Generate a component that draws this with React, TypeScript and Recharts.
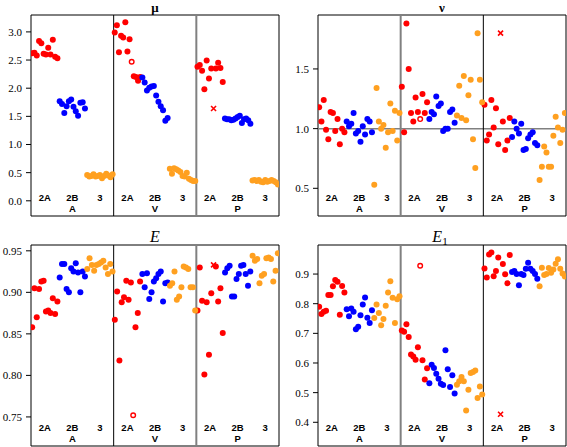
import { ReferenceArea, ReferenceDot, ReferenceLine, Scatter, ScatterChart, XAxis, YAxis } from 'recharts';

const groupNames = ['A', 'V', 'P'];
const subNames = ['2A', '2B', '3'];
const subColors = ['#ff0000', '#0000ff', '#ffa020'];

// each array: [A, V, P] values in plotting order
const mu2A = [
  [2.62, 2.63, 2.58, 2.84, 2.8, 2.61, 2.6, 2.72, 2.6, 2.86, 2.56, 2.53],
  [2.99, 3.12, 2.64, 2.93, 2.9, 3.17, 2.65, 2.87, 2.47, 2.21, 2.2, 2.13, 2.2],
  [2.38, 2.41, 2.31, 1.98, 2.49, 2.17, 2.35, 1.64, 2.35, 2.45, 2.36, 2.11],
];
const mu2B = [
  [1.77, 1.72, 1.56, 1.68, 1.77, 1.8, 1.67, 1.59, 1.51, 1.74, 1.75, 1.64],
  [2.19, 2.1, 1.96, 2.01, 2.03, 2.04, 1.87, 1.76, 1.68, 1.61, 1.42, 1.47],
  [1.46, 1.45, 1.45, 1.43, 1.44, 1.46, 1.49, 1.51, 1.38, 1.45, 1.46, 1.43, 1.37],
];
const mu3 = [
  [0.46, 0.43, 0.44, 0.47, 0.43, 0.44, 0.46, 0.4, 0.44, 0.48, 0.45, 0.42, 0.47],
  [0.57, 0.48, 0.58, 0.56, 0.54, 0.51, 0.44, 0.43, 0.5, 0.39, 0.37, 0.35, 0.35],
  [0.36, 0.37, 0.35, 0.37, 0.34, 0.33, 0.37, 0.34, 0.35, 0.37, 0.35, 0.33, 0.29],
];

const nu2A = [
  [1.18, 1.06, 1.24, 0.99, 0.91, 1.14, 1.13, 0.98, 1.08, 0.87, 1.0, 0.97],
  [1.35, 0.97, 1.88, 1.5, 1.13, 1.06, 1.26, 1.14, 1.08, 1.29, 1.13, 1.22],
  [1.2, 0.9, 0.95, 1.24, 1.01, 1.17, 0.87, 1.8, 1.06, 0.82, 0.9, 1.09],
];
const nu2B = [
  [1.06, 1.02, 1.04, 1.13, 0.96, 0.98, 0.89, 1.02, 0.95, 1.08, 1.06, 0.97],
  [1.08, 1.14, 1.12, 1.27, 1.19, 1.21, 0.98, 1.0, 1.0, 1.14, 1.16, 1.05],
  [0.93, 1.06, 1.0, 0.96, 1.04, 0.82, 0.83, 0.92, 0.95, 0.97, 0.88, 0.86],
];
const nu3 = [
  [0.53, 1.34, 1.06, 1.0, 1.03, 0.84, 0.97, 1.21, 0.98, 1.15, 0.9, 1.13],
  [1.11, 1.36, 1.09, 1.44, 1.07, 1.28, 1.41, 0.91, 0.67, 1.8, 1.41, 1.22],
  [0.57, 0.68, 0.85, 0.8, 0.68, 0.68, 0.94, 1.1, 1.01, 0.88, 0.99, 1.13],
];

const e2A = [
  [0.858, 0.905, 0.87, 0.904, 0.913, 0.914, 0.877, 0.878, 0.875, 0.893, 0.874, 0.889],
  [0.867, 0.901, 0.818, 0.888, 0.894, 0.914, 0.891, 0.912, 0.752, 0.858, 0.875, 0.913],
  [0.878, 0.93, 0.89, 0.801, 0.888, 0.825, 0.899, 0.933, 0.931, 0.889, 0.905, 0.851],
];
const e2B = [
  [0.918, 0.934, 0.934, 0.904, 0.9, 0.929, 0.925, 0.935, 0.924, 0.9, 0.925, 0.919],
  [0.922, 0.906, 0.923, 0.892, 0.9, 0.913, 0.917, 0.922, 0.925, 0.889, 0.911, 0.912],
  [0.924, 0.929, 0.932, 0.895, 0.895, 0.916, 0.922, 0.932, 0.933, 0.922, 0.908, 0.925],
];
const e3 = [
  [0.928, 0.941, 0.933, 0.926, 0.933, 0.934, 0.936, 0.938, 0.93, 0.922, 0.934, 0.925],
  [0.908, 0.911, 0.925, 0.891, 0.895, 0.906, 0.931, 0.93, 0.928, 0.906, 0.906, 0.878],
  [0.944, 0.938, 0.94, 0.911, 0.92, 0.922, 0.941, 0.942, 0.94, 0.913, 0.926, 0.947],
];

const e1_2A = [
  [0.79, 0.765, 0.773, 0.776, 0.829, 0.829, 0.859, 0.88, 0.874, 0.763, 0.86, 0.838],
  [0.71, 0.705, 0.731, 0.688, 0.629, 0.622, 0.611, 0.653, 0.928, 0.609, 0.544, 0.582],
  [0.919, 0.888, 0.966, 0.973, 0.893, 0.91, 0.956, 0.427, 0.934, 0.899, 0.869, 0.964],
];
const e1_2B = [
  [0.781, 0.758, 0.784, 0.773, 0.714, 0.722, 0.761, 0.797, 0.821, 0.753, 0.735, 0.778],
  [0.532, 0.594, 0.583, 0.564, 0.547, 0.53, 0.526, 0.643, 0.579, 0.519, 0.559, 0.497],
  [0.907, 0.91, 0.9, 0.862, 0.9, 0.897, 0.918, 0.938, 0.918, 0.91, 0.9, 0.884],
];
const e1_3 = [
  [0.752, 0.797, 0.769, 0.727, 0.748, 0.793, 0.838, 0.876, 0.82, 0.735, 0.815, 0.825],
  [0.527, 0.538, 0.553, 0.538, 0.44, 0.51, 0.566, 0.57, 0.575, 0.482, 0.521, 0.494],
  [0.859, 0.921, 0.897, 0.9, 0.92, 0.904, 0.915, 0.935, 0.95, 0.918, 0.902, 0.892],
];

// special 2A markers (group index, point index): open circle and cross
const openMarks = [{ g: 1, i: 8 }];
const crossMarks = [{ g: 2, i: 7 }];

const muTicks = [0, 0.5, 1, 1.5, 2, 2.5, 3];
const nuTicks = [0.5, 1, 1.5];
const eTicks = [0.75, 0.8, 0.85, 0.9, 0.95];
const e1Ticks = [0.4, 0.5, 0.6, 0.7, 0.8, 0.9];
const catCenters = [0.5, 1.5, 2.5, 3.5, 4.5, 5.5, 6.5, 7.5, 8.5];

const GRAY = '#808080';
const AXIS_W = 31;
const PLOT_W = 248;
const PLOT_H = 201;
const TOP = 15;

type Pt = { x: number; y: number };

function buildPoints(series: number[][][]) {
  const normal: Pt[][] = [[], [], []];
  const open: Pt[] = [];
  const cross: Pt[] = [];
  series.forEach((byGroup, s) =>
    byGroup.forEach((vals, g) =>
      vals.forEach((v, i) => {
        const pt = { x: g * 3 + s + (i + 0.5) / vals.length, y: v };
        if (s === 0 && openMarks.some((m) => m.g === g && m.i === i)) open.push(pt);
        else if (s === 0 && crossMarks.some((m) => m.g === g && m.i === i)) cross.push(pt);
        else normal[s].push(pt);
      })
    )
  );
  return { normal, open, cross };
}

const dot = (color: string) => (p: any) => <circle cx={p.cx} cy={p.cy} r={3} fill={color} />;
const ring = (p: any) => <circle cx={p.cx} cy={p.cy} r={2.3} fill="#fff" stroke="#ff0000" strokeWidth={1.4} />;
const xMark = (p: any) => (
  <path
    d={`M${p.cx - 2.5},${p.cy - 2.5}L${p.cx + 2.5},${p.cy + 2.5}M${p.cx - 2.5},${p.cy + 2.5}L${p.cx + 2.5},${p.cy - 2.5}`}
    stroke="#ff0000"
    strokeWidth={1.6}
  />
);

const catStyle = { fontFamily: 'Liberation Sans, Arial, sans-serif', fontSize: 9.5, fontWeight: 700 };

const catLabel = (c: number) => (props: any) => {
  const s = Math.floor(c) % 3;
  const g = Math.floor(c / 3);
  const { x, y } = props.viewBox;
  return (
    <g>
      <text x={x} y={y - 15} textAnchor="middle" fill="#000" style={catStyle}>
        {subNames[s]}
      </text>
      {s === 1 && (
        <text x={x} y={y - 4} textAnchor="middle" fill="#000" style={catStyle}>
          {groupNames[g]}
        </text>
      )}
    </g>
  );
};

interface PanelProps {
  series: number[][][];
  domain: [number, number];
  ticks: number[];
  digits: number;
  left: number;
  top: number;
  right: number;
  sepStyles: [string, string];
  hline?: number;
}

const Panel = ({ series, domain, ticks, digits, left, top, right, sepStyles, hline }: PanelProps) => {
  const pts = buildPoints(series);
  return (
    <div style={{ position: 'absolute', left: left - AXIS_W, top: top - TOP }}>
      <ScatterChart
        width={AXIS_W + PLOT_W + right}
        height={TOP + PLOT_H + 1}
        margin={{ top: TOP, right, bottom: 1, left: 0 }}
      >
        <XAxis type="number" dataKey="x" domain={[0, 9]} hide allowDataOverflow />
        <YAxis
          type="number"
          dataKey="y"
          domain={domain}
          ticks={ticks}
          interval={0}
          width={AXIS_W}
          axisLine={false}
          tickLine={{ stroke: '#000' }}
          tickSize={5}
          tickMargin={4}
          tick={{ fill: '#000', fontSize: 11, fontFamily: 'Liberation Serif, Times New Roman, serif' }}
          tickFormatter={(v: number) => v.toFixed(digits)}
          allowDataOverflow
        />
        {hline !== undefined && <ReferenceLine y={hline} stroke={GRAY} strokeWidth={1.5} />}
        <ReferenceLine x={3} stroke={sepStyles[0]} strokeWidth={sepStyles[0] === GRAY ? 2 : 1} />
        <ReferenceLine x={6} stroke={sepStyles[1]} strokeWidth={sepStyles[1] === GRAY ? 2 : 1} />
        {pts.normal.map((d, s) => (
          <Scatter key={s} data={d} shape={dot(subColors[s])} isAnimationActive={false} />
        ))}
        <Scatter data={pts.open} shape={ring} isAnimationActive={false} />
        <Scatter data={pts.cross} shape={xMark} isAnimationActive={false} />
        {catCenters.map((c) => (
          <ReferenceDot
            key={c}
            x={c}
            y={domain[0]}
            r={0}
            fill="none"
            stroke="none"
            ifOverflow="visible"
            label={{ content: catLabel(c) }}
          />
        ))}
        <ReferenceArea x1={0} x2={9} y1={domain[0]} y2={domain[1]} fill="none" stroke="#000" strokeWidth={1} />
      </ScatterChart>
    </div>
  );
};

const titleStyle = { fontFamily: 'Liberation Serif, Times New Roman, serif', fontSize: 13, fontWeight: 700 };
const eStyle = { fontFamily: 'Liberation Serif, Times New Roman, serif', fontSize: 16, fontStyle: 'italic' as const };

const App = () => (
  <div style={{ position: 'absolute', left: 0, top: 0, width: 567, height: 447, background: '#fff' }}>
    <Panel series={[mu2A, mu2B, mu3]} domain={[-0.27, 3.3]} ticks={muTicks} digits={1} left={31} top={15} right={4} sepStyles={['#000', GRAY]} />
    <Panel series={[nu2A, nu2B, nu3]} domain={[0.268, 1.952]} ticks={nuTicks} digits={1} left={318} top={15} right={1} sepStyles={[GRAY, '#000']} hline={1} />
    <Panel series={[e2A, e2B, e3]} domain={[0.715, 0.957]} ticks={eTicks} digits={2} left={31} top={245} right={4} sepStyles={['#000', GRAY]} />
    <Panel series={[e1_2A, e1_2B, e1_3]} domain={[0.32, 0.998]} ticks={e1Ticks} digits={1} left={318} top={245} right={1} sepStyles={[GRAY, '#000']} />
    <svg width={567} height={447} style={{ position: 'absolute', left: 0, top: 0, pointerEvents: 'none' }}>
      <text x={155} y={12} textAnchor="middle" style={titleStyle}>μ</text>
      <text x={442} y={12} textAnchor="middle" style={titleStyle}>ν</text>
      <text x={155} y={242} textAnchor="middle" style={eStyle}>E</text>
      <text x={440} y={242} textAnchor="middle" style={eStyle}>
        E<tspan dy={3} fontSize={11} fontStyle="normal">1</tspan>
      </text>
    </svg>
  </div>
);

export default App;
